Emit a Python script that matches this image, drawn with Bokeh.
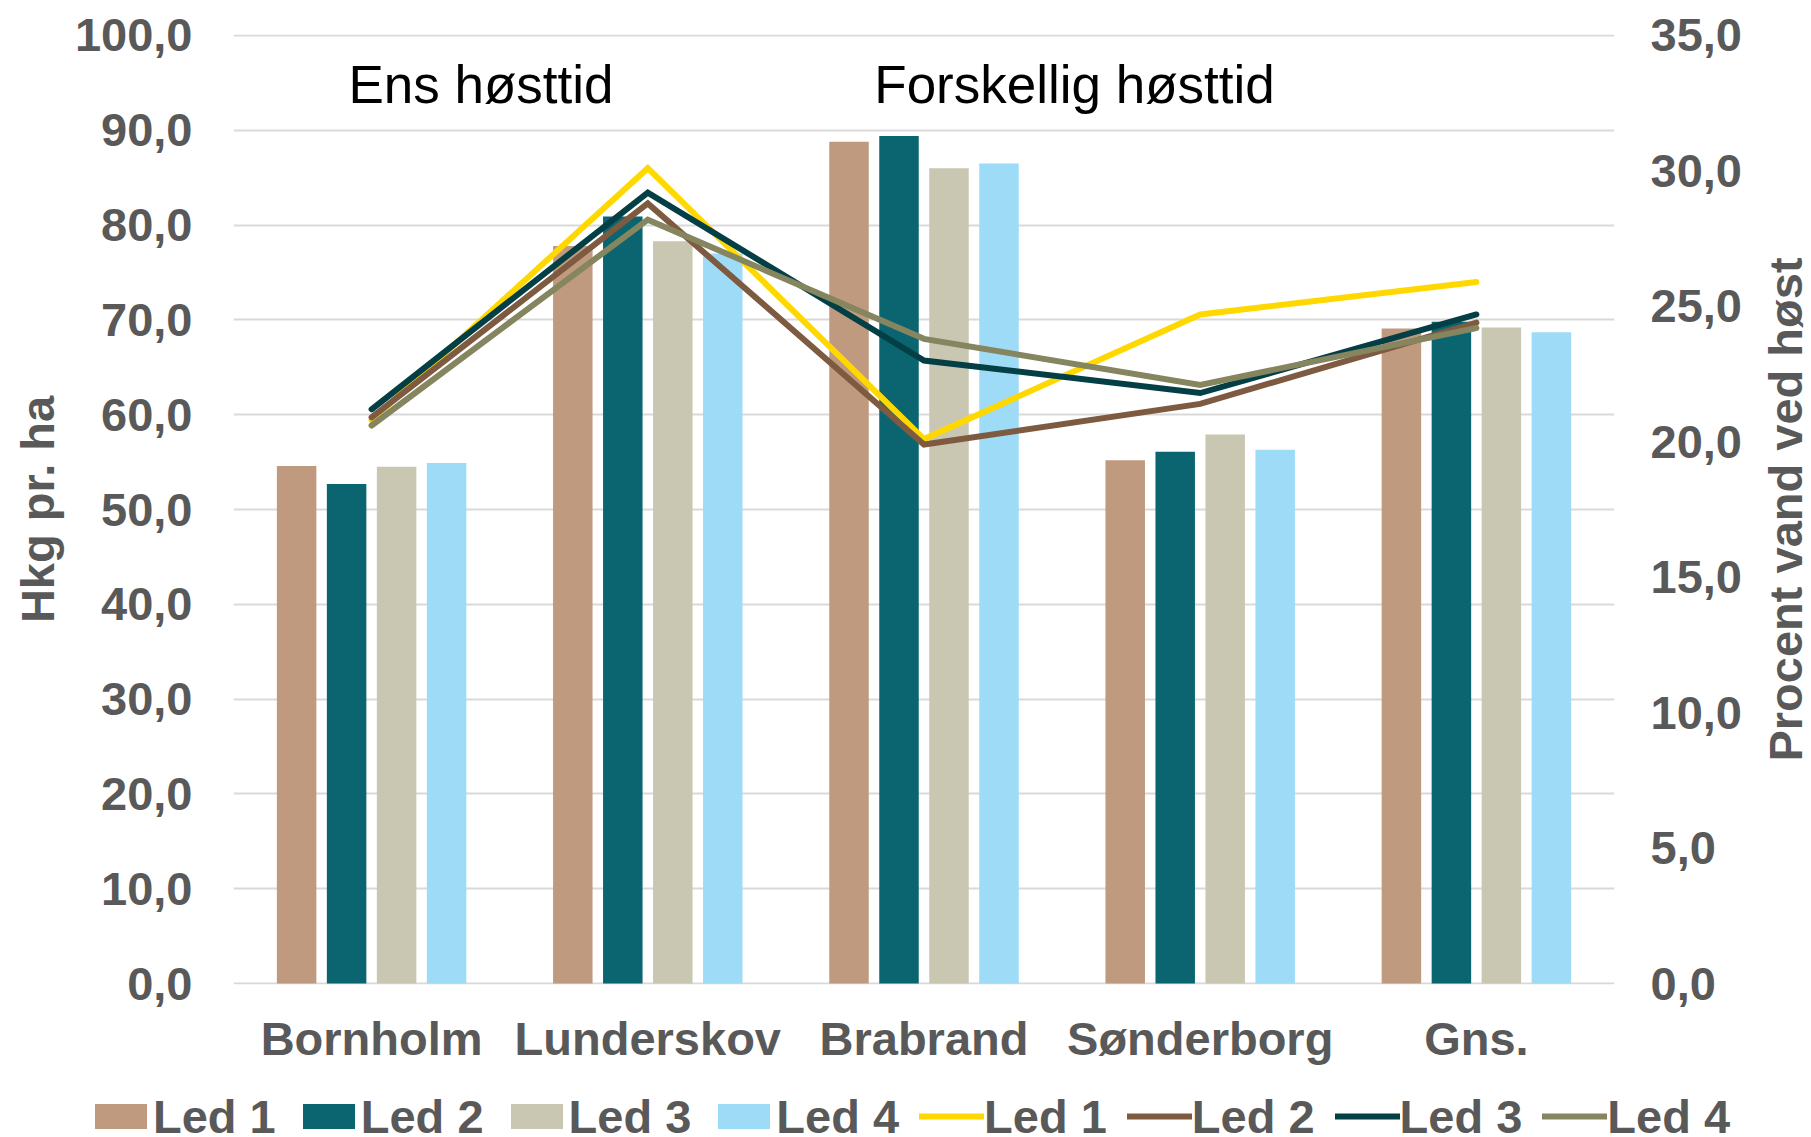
import math
from bokeh.plotting import figure
from bokeh.layouts import column, row
from bokeh.models import (FactorRange, Range1d, LinearAxis, FixedTicker, Legend,
                          LegendItem, Label, ColumnDataSource, CustomJSTickFormatter)
from bokeh.transform import dodge
from bokeh.embed import file_html
from bokeh.resources import INLINE

# ---------------- data ----------------
categories = ["Bornholm", "Lunderskov", "Brabrand", "Sønderborg", "Gns."]
series_names = ["Led 1", "Led 2", "Led 3", "Led 4"]

# Hkg pr. ha (bars, left axis)
hkg_led1 = [54.6, 77.8, 88.8, 55.2, 69.1]
hkg_led2 = [52.7, 80.9, 89.4, 56.1, 69.8]
hkg_led3 = [54.5, 78.3, 86.0, 57.9, 69.2]
hkg_led4 = [54.9, 77.0, 86.5, 56.3, 68.7]

# Procent vand ved høst (lines, right axis)
vand_led1 = [20.8, 30.1, 20.1, 24.7, 25.9]
vand_led2 = [20.9, 28.8, 19.9, 21.4, 24.4]
vand_led3 = [21.2, 29.2, 23.0, 21.8, 24.7]
vand_led4 = [20.6, 28.2, 23.8, 22.1, 24.2]

left_ticks = [0, 10, 20, 30, 40, 50, 60, 70, 80, 90, 100]
left_tick_labels = ["0,0", "10,0", "20,0", "30,0", "40,0", "50,0", "60,0",
                    "70,0", "80,0", "90,0", "100,0"]
right_ticks = [0, 5, 10, 15, 20, 25, 30, 35]
right_tick_labels = ["0,0", "5,0", "10,0", "15,0", "20,0", "25,0", "30,0", "35,0"]

# ---------------- styling ----------------
bar_colors = ["#BF9A7E", "#0A6570", "#C9C7B2", "#9EDBF6"]
line_colors = ["#FFD800", "#7E5B40", "#043F45", "#85855F"]
bar_offsets = [-0.2715, -0.0905, 0.0905, 0.2715]
bar_width = 0.143
LINE_W = 6
TXT = "#595959"
FONT = "Liberation Sans"
FS = "47px"

source = ColumnDataSource(dict(
    cat=categories,
    h1=hkg_led1, h2=hkg_led2, h3=hkg_led3, h4=hkg_led4,
    v1=vand_led1, v2=vand_led2, v3=vand_led3, v4=vand_led4,
))
bar_keys = ["h1", "h2", "h3", "h4"]
line_keys = ["v1", "v2", "v3", "v4"]


def add_series(fig, y_range_name=None):
    bars, lines = [], []
    for key, off, col in zip(bar_keys, bar_offsets, bar_colors):
        bars.append(fig.vbar(x=dodge("cat", off, range=fig.x_range), top=key,
                             width=bar_width, source=source,
                             fill_color=col, line_color=None))
    for key, col in zip(line_keys, line_colors):
        kw = dict(y_range_name=y_range_name) if y_range_name else {}
        lines.append(fig.line(x="cat", y=key, source=source, line_color=col,
                              line_width=LINE_W, line_cap="round",
                              line_join="miter", **kw))
    return bars, lines


# main chart: 1755 x 1095
p = figure(
    x_range=FactorRange(factors=categories),
    y_range=Range1d(-0.1, 100.1),
    frame_width=1381, frame_height=950,
    min_border_left=233, min_border_right=141,
    min_border_top=34, min_border_bottom=111,
    output_backend="svg", toolbar_location=None,
    background_fill_color="white", border_fill_color="white",
    outline_line_color=None,
)
p.extra_y_ranges = {"vand": Range1d(-0.035, 35.035)}
add_series(p, "vand")

p.xgrid.grid_line_color = None
p.ygrid.ticker = FixedTicker(ticks=left_ticks)
p.ygrid.grid_line_color = "#D9D9D9"
p.ygrid.grid_line_width = 2

FMT_CODE = "const i = tvals.indexOf(tick); return i >= 0 ? tlabels[i] : '';"

yax = p.yaxis[0]
yax.ticker = FixedTicker(ticks=left_ticks)
yax.formatter = CustomJSTickFormatter(
    args=dict(tvals=left_ticks, tlabels=left_tick_labels), code=FMT_CODE)
yax.axis_label = "Hkg pr. ha"
yax.axis_label_standoff = 8
yax.major_label_standoff = 35

rax = LinearAxis(y_range_name="vand", ticker=FixedTicker(ticks=right_ticks))
rax.formatter = CustomJSTickFormatter(
    args=dict(tvals=right_ticks, tlabels=right_tick_labels), code=FMT_CODE)
rax.major_label_standoff = 30
p.add_layout(rax, "right")

xax = p.xaxis[0]
xax.major_label_standoff = 21

for ax in [yax, rax, xax]:
    ax.axis_line_color = None
    ax.major_tick_line_color = None
    ax.minor_tick_line_color = None
    ax.major_label_text_font = FONT
    ax.major_label_text_font_style = "bold"
    ax.major_label_text_font_size = FS
    ax.major_label_text_color = TXT
    ax.axis_label_text_font = FONT
    ax.axis_label_text_font_style = "bold"
    ax.axis_label_text_font_size = FS
    ax.axis_label_text_color = TXT

p.add_layout(Label(x=0.896, y=94.8, text="Ens høsttid", text_align="center",
                   text_baseline="alphabetic", text_font=FONT,
                   text_font_size="53px", text_color="black"))
p.add_layout(Label(x=3.045, y=94.8, text="Forskellig høsttid", text_align="center",
                   text_baseline="alphabetic", text_font=FONT,
                   text_font_size="53px", text_color="black"))

# right-hand axis title strip (its frame is aligned with the main frame)
tfig = figure(width=56, height=1095, min_border=0, x_range=Range1d(0, 1),
              y_range=Range1d(0, 1), x_axis_type=None, y_axis_type=None,
              output_backend="svg", toolbar_location=None, outline_line_color=None,
              background_fill_color="white", border_fill_color="white")
tfig.add_layout(Label(x=30, y=475, x_units="screen", y_units="screen",
                      text="Procent vand ved høst", angle=math.pi / 2,
                      text_align="center", text_baseline="middle",
                      text_font=FONT, text_font_style="bold", text_font_size=FS,
                      text_color=TXT))

# legend strip: 1811 x 42 (series drawn out of view so legend keys render)
lfig = figure(width=1811, height=42, min_border=0,
              x_range=FactorRange(factors=categories),
              y_range=Range1d(1000, 1001), x_axis_type=None, y_axis_type=None,
              output_backend="svg", toolbar_location=None, outline_line_color=None,
              background_fill_color="white", border_fill_color="white")
key_bars, key_lines = add_series(lfig)
items = [LegendItem(label=n, renderers=[r]) for n, r in zip(series_names, key_bars)]
items += [LegendItem(label=n, renderers=[r]) for n, r in zip(series_names, key_lines)]
legend = Legend(items=items, orientation="horizontal", location="center_left",
                glyph_width=65, glyph_height=31, label_standoff=0, spacing=20,
                padding=0, margin=88, border_line_color=None,
                background_fill_alpha=0,
                label_text_font=FONT, label_text_font_style="bold",
                label_text_font_size=FS, label_text_color=TXT)
lfig.add_layout(legend)

layout = column(row(p, tfig, spacing=0), lfig, spacing=0)
open("out.html", "w").write(file_html(layout, INLINE))
